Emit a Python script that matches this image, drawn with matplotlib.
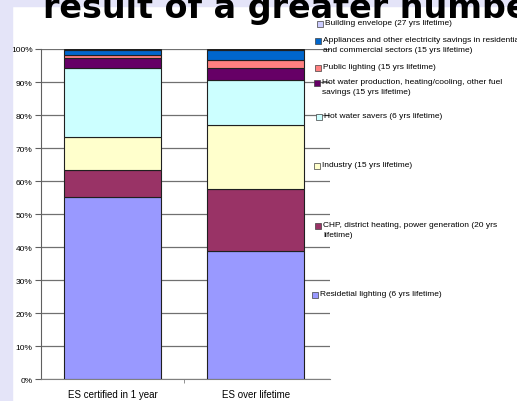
import numpy as np
import matplotlib.pyplot as plt
from matplotlib.patches import Rectangle

# data (percent shares, bottom to top)
categories = ['ES certified in 1 year', 'ES over lifetime']
series = ['Residetial lighting (6 yrs lifetime)',
          'CHP, district heating, power generation (20 yrs\nlifetime)',
          'Industry (15 yrs lifetime)',
          'Hot water savers (6 yrs lifetime)',
          'Hot water production, heating/cooling, other fuel\nsavings (15 yrs lifetime)',
          'Public lighting (15 yrs lifetime)',
          'Appliances and other electricity savings in residential\nand commercial sectors (15 yrs lifetime)',
          'Building envelope (27 yrs lifetime)']
es_1year = [55.2, 8.2, 10.0, 20.9, 2.9, 0.9, 1.7, 0.2]
es_lifetime = [38.8, 18.9, 19.3, 13.5, 3.8, 2.5, 3.0, 0.2]
yticks = [0, 10, 20, 30, 40, 50, 60, 70, 80, 90, 100]

colors = ['#9999FF', '#993366', '#FFFFCC', '#CCFFFF',
          '#660066', '#FF8080', '#0066CC', '#CCCCFF']

W, H = 517, 402
narrow = ['Liberation Sans Narrow', 'Liberation Sans', 'DejaVu Sans']

fig = plt.figure(figsize=(W / 100, H / 100), dpi=100)

def fx(px):
    return px / W

def fy(py):
    return 1 - py / H

# slide background pieces
fig.patches.append(Rectangle((0, 0), fx(12), 1, transform=fig.transFigure,
                             color='#E4E4F8', zorder=0))
fig.patches.append(Rectangle((0, fy(7)), 1, fy(0) - fy(7), transform=fig.transFigure,
                             color='#E4E4F8', zorder=0))

ax = fig.add_axes([fx(41), fy(380.3), fx(330) - fx(41), fy(50) - fy(380.3)])

vals = np.array([es_1year, es_lifetime])
x = np.arange(len(categories))
bottom = np.zeros(len(categories))
for i, name in enumerate(series):
    ax.bar(x, vals[:, i], 0.68, bottom=bottom, color=colors[i],
           edgecolor='#202020', linewidth=0.8, zorder=3)
    bottom += vals[:, i]

ax.set_xlim(-0.5, 1.52)
ax.set_ylim(0, 100)
ax.set_yticks(yticks)
ax.set_yticklabels(['%d%%' % t for t in yticks], fontsize=6, family=narrow)
ax.set_xticks([0.5], minor=True)
ax.set_xticks(x)
ax.set_xticklabels(categories, fontsize=7, family=narrow)
ax.tick_params(axis='x', which='major', length=0, pad=7)
ax.tick_params(axis='x', which='minor', length=3, color='#808080')
ax.tick_params(axis='y', length=4, color='#606060', pad=2)
ax.grid(axis='y', color='#707070', linewidth=0.9, zorder=0)
for s in ['top', 'right']:
    ax.spines[s].set_visible(False)
ax.spines['left'].set_color('#606060')
ax.spines['bottom'].set_color('#808080')

# legend, placed by hand like the original
legend_pos = [(315, 296), (318, 227), (317, 167), (319, 118),
              (317, 84), (318, 69), (318, 42), (320, 25)]
for (px, py), name, c in zip(legend_pos, series, colors):
    fig.patches.append(Rectangle((fx(px - 3), fy(py + 3)), fx(6), fy(0) - fy(6),
                                 transform=fig.transFigure, facecolor=c,
                                 edgecolor='#404040', linewidth=0.5))
    fig.text(fx(px + 5), fy(py - 5), name, fontsize=6, family=narrow,
             va='top', ha='left', linespacing=1.6)

# partly hidden slide title
fig.text(fx(43), fy(18), 'result of a greater numbe', fontsize=24,
         fontweight='bold', family=['DejaVu Sans'], va='baseline', ha='left')

fig.savefig('out.png', dpi=100)
